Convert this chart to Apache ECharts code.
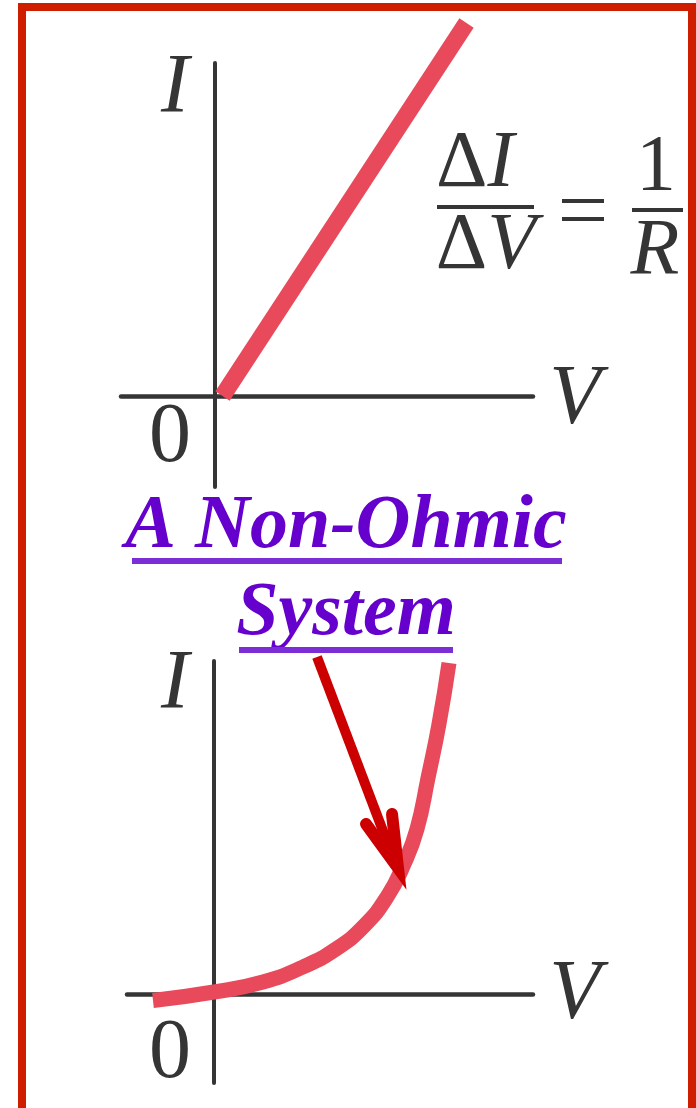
<!DOCTYPE html>
<html>
<head>
<meta charset="utf-8">
<script src="https://cdn.jsdelivr.net/npm/echarts@6/dist/echarts.min.js"></script>
<style>
html,body{margin:0;padding:0;background:#fff;}
#chart{width:696px;height:1108px;}
</style>
</head>
<body>
<div id="chart"></div>
<script>
// 上图：欧姆元件，I-V 直线
var ohmV = [0.08, 2.52];
var ohmI = [0, 3.73];
// 下图：非欧姆元件，I-V 曲线
var curveV = [-0.61, 0, 0.49, 0.89, 1.22, 1.5, 1.73, 1.90, 2.03, 2.14, 2.25, 2.35];
var curveI = [-0.065, 0.02, 0.12, 0.27, 0.45, 0.68, 0.97, 1.30, 1.65, 2.16, 2.70, 3.31];
// 指向曲线的箭头（杆 + 箭头两翼）
var arrowShaftV = [1.03, 1.80];
var arrowShaftI = [3.37, 1.34];
var arrowHeadV = [1.52, 1.84, 1.78];
var arrowHeadI = [1.70, 1.26, 1.80];
// 文字
var axisNames = ['I', 'V', '0'];
var titleLines = ['A Non-Ohmic', 'System'];

function pairs(xs, ys) {
  var out = [];
  for (var i = 0; i < xs.length; i++) {
    out.push([xs[i], ys[i]]);
  }
  return out;
}

var serif = '"Liberation Serif","Times New Roman",serif';
var ink = '#353535';
var curveColor = '#e8495b';

function axisStyle(w) {
  return {
    show: true,
    onZero: true,
    lineStyle: { color: ink, width: w }
  };
}

function txt(s, x, y, font, color) {
  return {
    type: 'text',
    x: x,
    y: y,
    style: {
      text: s,
      font: font,
      fill: color || ink,
      align: 'center',
      verticalAlign: 'middle'
    }
  };
}

function bar(x1, x2, y, w, color) {
  return {
    type: 'line',
    shape: { x1: x1, y1: y, x2: x2, y2: y },
    style: { stroke: color || ink, lineWidth: w }
  };
}

function delta(letter, x, y) {
  return {
    type: 'text', x: x, y: y,
    style: {
      text: '{a|Δ}{b|' + letter + '}',
      align: 'center', verticalAlign: 'middle',
      rich: {
        a: { font: '80px ' + serif, fill: ink },
        b: { font: 'italic 80px ' + serif, fill: ink }
      }
    }
  };
}

var italic84 = 'italic 84px ' + serif;
var plain84 = '84px ' + serif;
var titleFont = 'italic bold 76px ' + serif;

var myChart = echarts.init(document.getElementById('chart'));
var option = {
  animation: false,
  backgroundColor: '#fff',
  grid: [
    { left: 121, right: 163, top: 63, bottom: 621 },
    { left: 127, right: 163, top: 661, bottom: 25 }
  ],
  xAxis: [
    { type: 'value', gridIndex: 0, min: -0.935, max: 3.185, axisLine: axisStyle(4.5),
      axisTick: { show: false }, axisLabel: { show: false }, splitLine: { show: false } },
    { type: 'value', gridIndex: 1, min: -0.87, max: 3.19, axisLine: axisStyle(4.5),
      axisTick: { show: false }, axisLabel: { show: false }, splitLine: { show: false } }
  ],
  yAxis: [
    { type: 'value', gridIndex: 0, min: -0.91, max: 3.33, axisLine: axisStyle(4),
      axisTick: { show: false }, axisLabel: { show: false }, splitLine: { show: false } },
    { type: 'value', gridIndex: 1, min: -0.89, max: 3.33, axisLine: axisStyle(4),
      axisTick: { show: false }, axisLabel: { show: false }, splitLine: { show: false } }
  ],
  series: [
    {
      type: 'line', xAxisIndex: 0, yAxisIndex: 0, clip: false, symbol: 'none',
      lineStyle: { color: curveColor, width: 17, cap: 'butt' },
      data: pairs(ohmV, ohmI)
    },
    {
      type: 'line', xAxisIndex: 1, yAxisIndex: 1, clip: false, symbol: 'none',
      smooth: 0.5,
      lineStyle: { color: curveColor, width: 15, cap: 'butt' },
      data: pairs(curveV, curveI)
    },
    {
      type: 'line', xAxisIndex: 1, yAxisIndex: 1, clip: false, symbol: 'none',
      lineStyle: { color: '#cc0000', width: 10, cap: 'butt' },
      data: pairs(arrowShaftV, arrowShaftI)
    },
    {
      type: 'line', xAxisIndex: 1, yAxisIndex: 1, clip: false, symbol: 'none',
      lineStyle: { color: '#cc0000', width: 12, cap: 'round', join: 'miter' },
      data: pairs(arrowHeadV, arrowHeadI)
    }
  ],
  graphic: [
    // 红色外框
    {
      type: 'rect',
      shape: { x: 22, y: 7, width: 670, height: 1112 },
      style: { fill: 'none', stroke: '#cf1d00', lineWidth: 8 }
    },
    // 上图坐标文字
    txt(axisNames[0], 175, 90, italic84),
    txt(axisNames[1], 575, 401, italic84),
    txt(axisNames[2], 170, 439, plain84),
    // 公式 ΔI/ΔV = 1/R
    delta('I', 475, 165),
    bar(437, 534, 207, 4),
    delta('V', 486, 247),
    bar(562, 604, 201, 4),
    bar(562, 604, 219, 4),
    txt('1', 656, 169, '80px ' + serif),
    bar(632, 683, 210, 4),
    txt('R', 655, 253, 'italic 80px ' + serif),
    // 标题
    txt(titleLines[0], 346, 527, titleFont, '#6600cc'),
    bar(132, 562, 561, 6, '#7b2ed6'),
    txt(titleLines[1], 346, 614, titleFont, '#6600cc'),
    bar(239, 453, 650, 6, '#7b2ed6'),
    // 下图坐标文字
    txt(axisNames[0], 175, 686, italic84),
    txt(axisNames[1], 575, 996, italic84),
    txt(axisNames[2], 170, 1055, plain84)
  ]
};
myChart.setOption(option);
</script>
</body>
</html>
